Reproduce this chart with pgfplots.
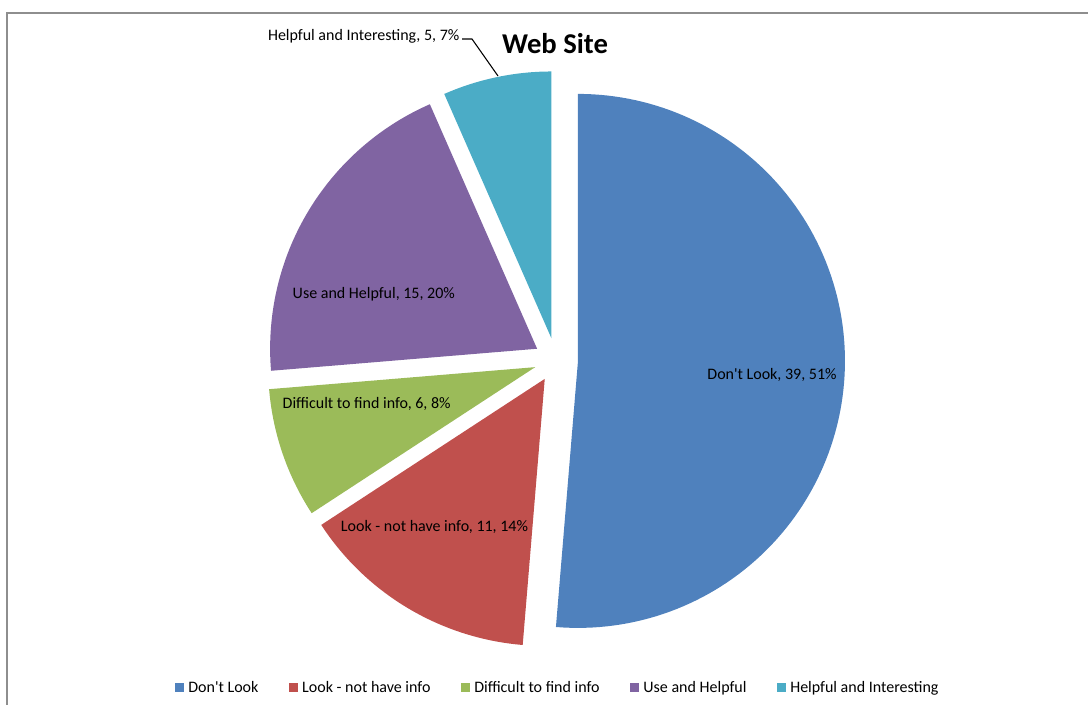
\documentclass[border=0pt]{standalone}
\usepackage{pgfplots}
\pgfplotsset{compat=1.18}
\usepackage{fontspec}
\setmainfont{Carlito}
\definecolor{cA}{HTML}{4F81BD}
\definecolor{cB}{HTML}{C0504D}
\definecolor{cC}{HTML}{9BBB59}
\definecolor{cD}{HTML}{8064A2}
\definecolor{cE}{HTML}{4BACC6}
\definecolor{frame}{HTML}{8E8E8E}
\begin{document}
\begin{tikzpicture}
% values
\def\vA{39}\def\vB{11}\def\vC{6}\def\vD{15}\def\vE{5}
% pie geometry (pixel units)
\def\cx{556}\def\cy{344}\def\R{267}\def\d{22}
\pgfmathsetmacro\tot{\vA+\vB+\vC+\vD+\vE}
\pgfmathsetmacro\aA{90}
\pgfmathsetmacro\aB{\aA-360*\vA/\tot}
\pgfmathsetmacro\aC{\aB-360*\vB/\tot}
\pgfmathsetmacro\aD{\aC-360*\vC/\tot}
\pgfmathsetmacro\aE{\aD-360*\vD/\tot}
\pgfmathsetmacro\aF{\aE-360*\vE/\tot}
\pgfmathsetmacro\xA{\cx+\d*cos((\aA+\aB)/2)}\pgfmathsetmacro\yA{\cy+\d*sin((\aA+\aB)/2)}
\pgfmathsetmacro\xB{\cx+\d*cos((\aB+\aC)/2)}\pgfmathsetmacro\yB{\cy+\d*sin((\aB+\aC)/2)}
\pgfmathsetmacro\xC{\cx+\d*cos((\aC+\aD)/2)}\pgfmathsetmacro\yC{\cy+\d*sin((\aC+\aD)/2)}
\pgfmathsetmacro\xD{\cx+\d*cos((\aD+\aE)/2)}\pgfmathsetmacro\yD{\cy+\d*sin((\aD+\aE)/2)}
\pgfmathsetmacro\xE{\cx+\d*cos((\aE+\aF)/2)}\pgfmathsetmacro\yE{\cy+\d*sin((\aE+\aF)/2)}
\begin{axis}[
  at={(0,0)}, anchor=south west,
  width=816pt, height=528pt, scale only axis,
  xmin=0, xmax=1088, ymin=0, ymax=704,
  hide axis, clip=false,
  legend columns=5,
  legend style={at={(0.5119,0.0234)}, anchor=center, draw=none, fill=none,
    inner sep=0pt, font=\fontsize{12}{14}\selectfont,
    nodes={inner sep=0pt},
    /tikz/every odd column/.append style={column sep=3pt},
    /tikz/every even column/.append style={column sep=23.1pt}},
  legend image code/.code={\fill[#1] (0pt,-3.4pt) rectangle (6.75pt,3.4pt);},
]
\addplot[fill=cA, draw=none, domain=\aB:\aA, samples=120, variable=\t]
  ({\xA+\R*cos(\t)},{\yA+\R*sin(\t)}) -- (axis cs:\xA,\yA) -- cycle;
\addlegendentry{Don\textquotesingle t Look}
\addplot[fill=cB, draw=none, domain=\aC:\aB, samples=60, variable=\t]
  ({\xB+\R*cos(\t)},{\yB+\R*sin(\t)}) -- (axis cs:\xB,\yB) -- cycle;
\addlegendentry{Look - not have info}
\addplot[fill=cC, draw=none, domain=\aD:\aC, samples=40, variable=\t]
  ({\xC+\R*cos(\t)},{\yC+\R*sin(\t)}) -- (axis cs:\xC,\yC) -- cycle;
\addlegendentry{Difficult to find info}
\addplot[fill=cD, draw=none, domain=\aE:\aD, samples=70, variable=\t]
  ({\xD+\R*cos(\t)},{\yD+\R*sin(\t)}) -- (axis cs:\xD,\yD) -- cycle;
\addlegendentry{Use and Helpful}
\addplot[fill=cE, draw=none, domain=\aF:\aE, samples=40, variable=\t]
  ({\xE+\R*cos(\t)},{\yE+\R*sin(\t)}) -- (axis cs:\xE,\yE) -- cycle;
\addlegendentry{Helpful and Interesting}
% leader line
\addplot[black, line width=0.8pt, forget plot] coordinates {(462,665) (472,665) (498,628)};
% frame
\draw[frame, line width=1.3pt] (axis cs:7,-20) -- (axis cs:7,691) -- (axis cs:1110,691);
% labels
\begin{scope}[every node/.style={font=\fontsize{12}{14}\selectfont, inner sep=0pt}]
\node at (axis cs:772,329) {Don\textquotesingle t Look, 39, 51\%};
\node at (axis cs:434.5,177.3) {Look - not have info, 11, 14\%};
\node at (axis cs:366.7,300) {Difficult to find info, 6, 8\%};
\node at (axis cs:373.8,410) {Use and Helpful, 15, 20\%};
\node at (axis cs:363.7,667.3) {Helpful and Interesting, 5, 7\%};
\end{scope}
\node[font=\bfseries\fontsize{21.5}{26}\selectfont, inner sep=0pt] at (axis cs:555,660) {Web Site};
\end{axis}
\pgfresetboundingbox
\path (0,0) rectangle (816pt,528pt);
\end{tikzpicture}
\end{document}
